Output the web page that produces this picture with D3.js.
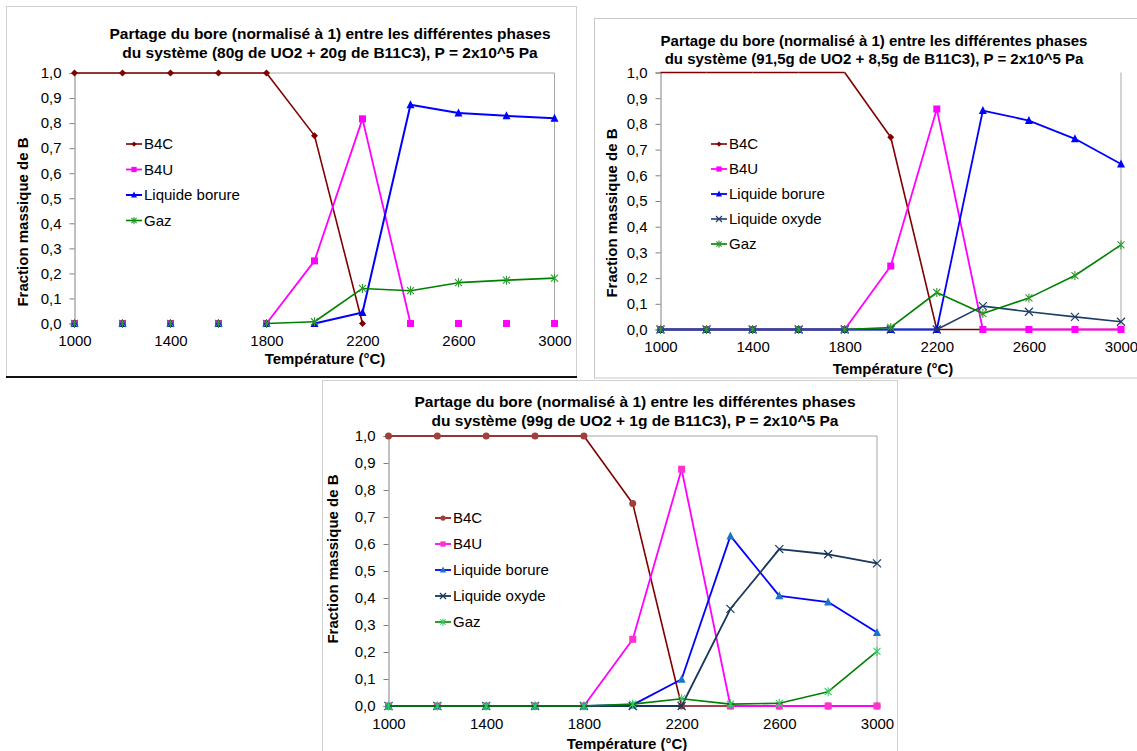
<!DOCTYPE html>
<html><head><meta charset="utf-8">
<script src="https://cdn.jsdelivr.net/npm/d3@7"></script>
<style>
body{margin:0;background:#fff;}
svg{display:block;font-family:"Liberation Sans",Arial,sans-serif;}
</style>
</head><body>
<svg id="c" width="1137" height="751"></svg>
<script>
// ---------- DATA ----------
const temperatures = [1000,1200,1400,1600,1800,2000,2200,2400,2600,2800,3000];
const xTickValues = [1000,1400,1800,2200,2600,3000];
const yTickValues = [0,0.1,0.2,0.3,0.4,0.5,0.6,0.7,0.8,0.9,1.0];
const xAxisTitle = "Température (°C)";
const yAxisTitle = "Fraction massique de B";

const chart1Title = ["Partage du bore (normalisé à 1) entre les différentes phases",
                     "du système (80g de UO2 + 20g de B11C3), P = 2x10^5 Pa"];
const chart1Names = ["B4C","B4U","Liquide borure","Gaz"];
const chart1B4C    = [1,1,1,1,1,0.75,0,null,null,null,null];
const chart1B4U    = [0,0,0,0,0,0.25,0.817,0,0,0,0];
const chart1Borure = [0,0,0,0,0,0,0.044,0.873,0.84,0.829,0.819];
const chart1Gaz    = [0,0,0,0,0,0.007,0.14,0.131,0.163,0.173,0.181];

const chart2Title = ["Partage du bore (normalisé à 1) entre les différentes phases",
                     "du système (91,5g de UO2 + 8,5g de B11C3), P = 2x10^5 Pa"];
const chart2Names = ["B4C","B4U","Liquide borure","Liquide oxyde","Gaz"];
const chart2B4C    = [1,1,1,1,1,0.748,0,0,0,0,0];
const chart2B4U    = [0,0,0,0,0,0.247,0.858,0,0,0,0];
const chart2Borure = [0,0,0,0,0,0,0,0.852,0.813,0.742,0.644];
const chart2Oxyde  = [0,0,0,0,0,0,0,0.091,0.069,0.049,0.03];
const chart2Gaz    = [0,0,0,0,0,0.008,0.144,0.062,0.123,0.21,0.329];

const chart3Title = ["Partage du bore (normalisé à 1) entre les différentes phases",
                     "du système (99g de UO2 + 1g de B11C3), P = 2x10^5 Pa"];
const chart3Names = ["B4C","B4U","Liquide borure","Liquide oxyde","Gaz"];
const chart3B4C    = [1,1,1,1,1,0.75,0,0,0,0,0];
const chart3B4U    = [0,0,0,0,0,0.247,0.877,0,0,0,0];
const chart3Borure = [0,0,0,0,0,0.004,0.099,0.63,0.408,0.385,0.272];
const chart3Oxyde  = [0,0,0,0,0,0,0,0.36,0.581,0.562,0.528];
const chart3Gaz    = [0,0,0,0,0,0.007,0.027,0.007,0.01,0.053,0.202];

// ---------- STYLES / LAYOUT ----------
const svg = d3.select("#c");
const fmtY = v => d3.format(".1f")(v).replace(".", ",");

function drawMarker(g, shape, x, y, color, s) {
  if (shape === "diamond") {
    g.append("path").attr("d", `M${x},${y-s}L${x+s},${y}L${x},${y+s}L${x-s},${y}Z`).attr("fill", color);
  } else if (shape === "square") {
    g.append("rect").attr("x", x-s).attr("y", y-s).attr("width", 2*s).attr("height", 2*s).attr("fill", color);
  } else if (shape === "triangle") {
    g.append("path").attr("d", `M${x},${y-s-0.5}L${x+s},${y+s-0.5}L${x-s},${y+s-0.5}Z`).attr("fill", color);
  } else if (shape === "circle") {
    g.append("circle").attr("cx", x).attr("cy", y).attr("r", s).attr("fill", color);
  } else if (shape === "x") {
    g.append("path").attr("d", `M${x-s},${y-s}L${x+s},${y+s}M${x-s},${y+s}L${x+s},${y-s}`)
      .attr("stroke", color).attr("stroke-width", 1.2).attr("fill", "none");
  } else if (shape === "star") {
    g.append("path").attr("d", `M${x-s},${y-s}L${x+s},${y+s}M${x-s},${y+s}L${x+s},${y-s}M${x},${y-s-1}L${x},${y+s+1}`)
      .attr("stroke", color).attr("stroke-width", 1.1).attr("fill", "none");
  }
}

function drawChart(cfg) {
  const g = svg.append("g");
  const x = d3.scaleLinear().domain([1000, 3000]).range([cfg.left, cfg.right]);
  const y = d3.scaleLinear().domain([0, 1]).range([cfg.bottom, cfg.top]);

  // plot-area border (gray)
  if (cfg.topBorder) g.append("line").attr("x1", cfg.left).attr("x2", cfg.right).attr("y1", cfg.top).attr("y2", cfg.top).attr("stroke", "#a6a6a6");
  g.append("line").attr("x1", cfg.right).attr("x2", cfg.right).attr("y1", cfg.top).attr("y2", cfg.bottom).attr("stroke", "#a6a6a6");

  // y axis
  const yAxis = d3.axisLeft(y).tickValues(yTickValues).tickFormat(fmtY).tickSize(5).tickPadding(8);
  const ya = g.append("g").attr("transform", `translate(${cfg.left},0)`).call(yAxis);
  ya.select(".domain").attr("stroke", "#808080");
  ya.selectAll(".tick line").attr("stroke", "#808080");
  ya.selectAll("text").attr("font-size", 15).attr("fill", "#000").attr("font-family", "Liberation Sans, Arial, sans-serif");

  // x axis (labels only)
  const xAxis = d3.axisBottom(x).tickValues(xTickValues).tickFormat(d3.format("d")).tickSize(0).tickPadding(12);
  const xa = g.append("g").attr("transform", `translate(0,${cfg.bottom})`).call(xAxis);
  xa.select(".domain").remove();
  xa.selectAll("text").attr("font-size", 15).attr("fill", "#000").attr("font-family", "Liberation Sans, Arial, sans-serif");

  // titles
  cfg.title.forEach((t, i) => {
    g.append("text").attr("x", cfg.titleX).attr("y", cfg.titleY + i * cfg.titleGap)
      .attr("text-anchor", "middle").attr("font-weight", "bold").attr("font-size", cfg.titleSize).text(t);
  });
  g.append("text").attr("x", cfg.xTitleX).attr("y", cfg.xTitleY).attr("text-anchor", "middle")
    .attr("font-weight", "bold").attr("font-size", 15).text(xAxisTitle);
  g.append("text").attr("transform", `translate(${cfg.yTitleX},${cfg.yTitleY}) rotate(-90)`)
    .attr("text-anchor", "middle").attr("font-weight", "bold").attr("font-size", 15).text(yAxisTitle);

  // series
  const line = d3.line().x(d => x(d[0])).y(d => y(d[1]));
  cfg.series.forEach(s => {
    const sg = g.append("g");
    for (let i = 0; i < temperatures.length - 1; i++) {
      const a = s.values[i], b = s.values[i + 1];
      if (a == null || b == null) continue;
      if (cfg.hideZeroSegments && a === 0 && b === 0) continue;
      sg.append("path").attr("d", line([[temperatures[i], a], [temperatures[i + 1], b]]))
        .attr("stroke", s.color).attr("stroke-width", s.width).attr("fill", "none");
    }
    s.values.forEach((v, i) => {
      if (v == null) return;
      if (s.markerFrom != null && i < s.markerFrom) return;
      drawMarker(sg, s.shape, x(temperatures[i]), y(v), s.markerColor, s.size);
    });
  });

  // legend
  cfg.series.forEach((s, i) => {
    const ly = cfg.legendY + i * cfg.legendGap;
    g.append("line").attr("x1", cfg.legendX).attr("x2", cfg.legendX + 16).attr("y1", ly).attr("y2", ly)
      .attr("stroke", s.color).attr("stroke-width", s.width);
    drawMarker(g, s.shape, cfg.legendX + 8, ly, s.markerColor, s.size * 0.75);
    g.append("text").attr("x", cfg.legendX + 18).attr("y", ly).attr("dy", "0.35em")
      .attr("font-size", 15).text(s.name);
  });
}

// ---------- FRAMES ----------
// chart 3 frame (drawn first, lies beneath)
svg.append("rect").attr("x", 322.5).attr("y", 380.5).attr("width", 575).attr("height", 380)
  .attr("fill", "#fff").attr("stroke", "#d0d0d0");
// chart 1 frame
svg.append("rect").attr("x", 6.5).attr("y", 6.5).attr("width", 570).attr("height", 370.5)
  .attr("fill", "#fff").attr("stroke", "#d0d0d0");
svg.append("line").attr("x1", 6).attr("x2", 577).attr("y1", 377).attr("y2", 377).attr("stroke", "#111").attr("stroke-width", 2);
// chart 2 frame
svg.append("rect").attr("x", 594.5).attr("y", 18.5).attr("width", 560).attr("height", 359.5)
  .attr("fill", "#fff").attr("stroke", "#c8c8c8");

// ---------- CHARTS ----------
drawChart({
  left: 74.5, right: 554.5, top: 73, bottom: 323.5, topBorder: true, hideZeroSegments: true,
  title: chart1Title, titleX: 330, titleY: 38.5, titleGap: 19, titleSize: 15.5,
  xTitleX: 325, xTitleY: 364, yTitleX: 28, yTitleY: 222,
  legendX: 126, legendY: 144, legendGap: 25.5,
  series: [
    {name: chart1Names[0], values: chart1B4C, color: "#800000", markerColor: "#800000", shape: "diamond", size: 3.5, width: 1.6},
    {name: chart1Names[1], values: chart1B4U, color: "#ff00ff", markerColor: "#ff00ff", shape: "square", size: 3.5, width: 1.8},
    {name: chart1Names[2], values: chart1Borure, color: "#0000ff", markerColor: "#0000ff", shape: "triangle", size: 4, width: 2},
    {name: chart1Names[3], values: chart1Gaz, color: "#008000", markerColor: "#2e9a2e", shape: "star", size: 3.5, width: 1.6}
  ]
});

drawChart({
  left: 660.5, right: 1121, top: 72.5, bottom: 329.5, topBorder: false, hideZeroSegments: false,
  title: chart2Title, titleX: 874, titleY: 45.5, titleGap: 18, titleSize: 15,
  xTitleX: 893, xTitleY: 373.5, yTitleX: 617, yTitleY: 213,
  legendX: 711, legendY: 144, legendGap: 25,
  series: [
    {name: chart2Names[0], values: chart2B4C, color: "#800000", markerColor: "#800000", shape: "diamond", size: 3.5, width: 1.6, markerFrom: 5},
    {name: chart2Names[1], values: chart2B4U, color: "#ff00ff", markerColor: "#ff00ff", shape: "square", size: 3.5, width: 1.8},
    {name: chart2Names[2], values: chart2Borure, color: "#0000ff", markerColor: "#0000ff", shape: "triangle", size: 4, width: 1.8},
    {name: chart2Names[3], values: chart2Oxyde, color: "#1f3d66", markerColor: "#1f3d66", shape: "x", size: 4, width: 1.6},
    {name: chart2Names[4], values: chart2Gaz, color: "#008000", markerColor: "#2e9a2e", shape: "star", size: 3.5, width: 1.6}
  ]
});

drawChart({
  left: 388.5, right: 877, top: 436, bottom: 706, topBorder: true, hideZeroSegments: false,
  title: chart3Title, titleX: 635, titleY: 407, titleGap: 18.5, titleSize: 15.5,
  xTitleX: 627, xTitleY: 748.5, yTitleX: 338, yTitleY: 559,
  legendX: 435, legendY: 518, legendGap: 26,
  series: [
    {name: chart3Names[0], values: chart3B4C, color: "#800000", markerColor: "#a0403c", shape: "circle", size: 3.5, width: 1.6},
    {name: chart3Names[1], values: chart3B4U, color: "#ff00ff", markerColor: "#ff33cc", shape: "square", size: 3.5, width: 1.8},
    {name: chart3Names[2], values: chart3Borure, color: "#0000ff", markerColor: "#1a75c8", shape: "triangle", size: 4, width: 1.8},
    {name: chart3Names[3], values: chart3Oxyde, color: "#17375e", markerColor: "#17375e", shape: "x", size: 4, width: 1.8},
    {name: chart3Names[4], values: chart3Gaz, color: "#008000", markerColor: "#33cc66", shape: "star", size: 3.5, width: 1.6}
  ]
});
</script>
</body></html>
